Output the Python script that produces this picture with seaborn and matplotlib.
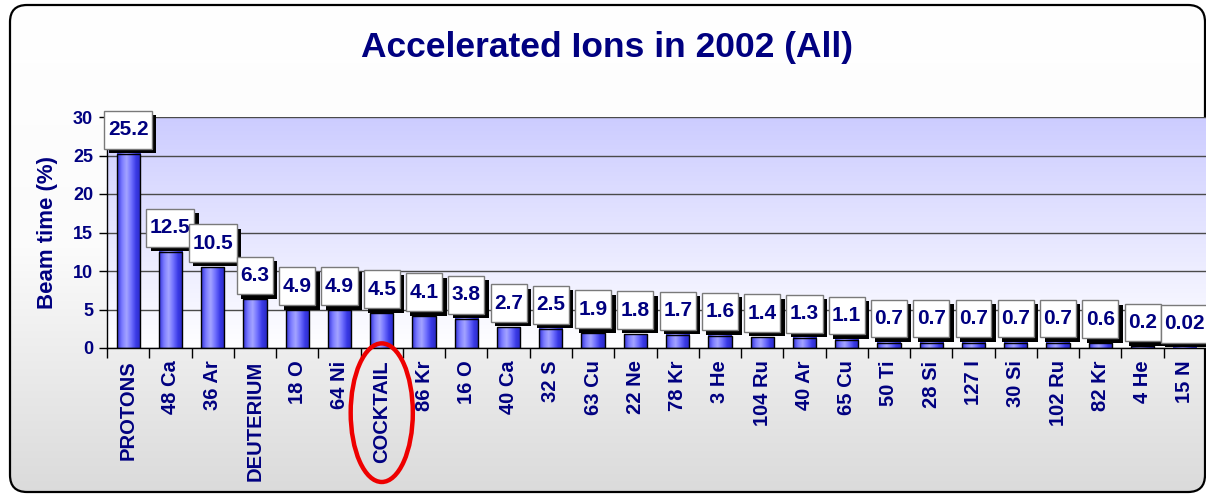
import numpy as np
import pandas as pd
import seaborn as sns
import matplotlib.pyplot as plt
from matplotlib.colors import LinearSegmentedColormap
from matplotlib.patches import FancyBboxPatch, Ellipse
from matplotlib.path import Path
from matplotlib import patheffects
from matplotlib import transforms

sns.set_style("white")
plt.rcParams["font.family"] = ["Liberation Sans", "DejaVu Sans"]

# data

ions = ["PROTONS", "48 Ca", "36 Ar", "DEUTERIUM", "18 O", "64 Ni", "COCKTAIL",
        "86 Kr", "16 O", "40 Ca", "32 S", "63 Cu", "22 Ne", "78 Kr", "3 He",
        "104 Ru", "40 Ar", "65 Cu", "50 Ti", "28 Si", "127 I", "30 Si",
        "102 Ru", "82 Kr", "4 He", "15 N"]
beam_time = [25.2, 12.5, 10.5, 6.3, 4.9, 4.9, 4.5, 4.1, 3.8, 2.7, 2.5, 1.9, 1.8,
             1.7, 1.6, 1.4, 1.3, 1.1, 0.7, 0.7, 0.7, 0.7, 0.7, 0.6, 0.2, 0.02]
yticks = [0, 5, 10, 15, 20, 25, 30]
highlight = "COCKTAIL"

df = pd.DataFrame({"ion": ions, "beam": beam_time})

navy = "#000080"

fig = plt.figure(figsize=(12.06, 4.97), dpi=100)

# background frame with grey gradient
bg = fig.add_axes([0, 0, 1, 1], zorder=-10)
bg.set_axis_off()
frame = FancyBboxPatch((0.10, 0.05), 11.95, 4.87,
                       boxstyle="round,pad=0,rounding_size=0.17",
                       transform=fig.dpi_scale_trans, fc="none", ec="black", lw=1.6)
grad_v = np.linspace(0, 1, 256).reshape(-1, 1)
grey_cmap = LinearSegmentedColormap.from_list("greys", ["#ffffff", "#fbfbfb", "#dadada"])
im = bg.imshow(grad_v, extent=[0, 1, 0, 1], origin="upper", cmap=grey_cmap,
               aspect="auto", transform=bg.transAxes)
bg.add_patch(frame)
im.set_clip_path(frame)
bg.set_xlim(0, 1)
bg.set_ylim(0, 1)

# plot area
ax = fig.add_axes([107 / 1206, 149 / 497, 1099 / 1206, 231 / 497])
ax.patch.set_facecolor("none")

sns.barplot(data=df, x="ion", y="beam", color="#6666ff", edgecolor="black",
            linewidth=1, width=0.55, ax=ax, zorder=3)

n = len(ions)
ax.imshow(grad_v, extent=[-0.5, n - 0.5, 0, 30], origin="upper",
          cmap=LinearSegmentedColormap.from_list("lav", ["#ccccff", "#ffffff"]),
          aspect="auto", zorder=0)

bar_cmap = LinearSegmentedColormap.from_list(
    "bar", ["#3232d8", "#7a7aff", "#a4a4ff", "#7070ff", "#3a3ae6", "#2a2ac4"])
grad_h = np.linspace(0, 1, 64).reshape(1, -1)
for p in ax.patches:
    x0, y0, w, h = p.get_x(), p.get_y(), p.get_width(), p.get_height()
    ax.imshow(grad_h, extent=[x0, x0 + w, y0, y0 + h], cmap=bar_cmap,
              aspect="auto", zorder=2.5)
    p.set_facecolor("none")

ax.set_axisbelow(True)
ax.yaxis.grid(True, color="#4a4a4a", lw=1)
ax.set_xlim(-0.5, n - 0.5)
ax.set_ylim(0, 30)
ax.set_yticks(yticks)
ax.set_yticklabels([str(t) for t in yticks], fontsize=13, fontweight="bold",
                   color=navy)
ax.tick_params(axis="y", length=6, width=1, color="black", direction="out",
               pad=4, left=True)

ax.set_xticks(range(n))
ax.set_xticklabels(ions, rotation=90, fontsize=14.5, fontweight="bold", color=navy,
                   va="top", ha="center")
ax.set_xticks(np.arange(-0.5, n, 1), minor=True)
ax.tick_params(axis="x", which="major", length=0, pad=9)
ax.tick_params(axis="x", which="minor", length=7, width=1, color="black",
               direction="out", bottom=True)
ax.set_xlabel("")
ax.set_ylabel("Beam time (%)", fontsize=16, fontweight="bold", color=navy,
              labelpad=11)

for side in ["top", "right"]:
    ax.spines[side].set_visible(False)
for side in ["left", "bottom"]:
    ax.spines[side].set_color("black")
    ax.spines[side].set_linewidth(1)


def label_box(x0, y0, width, height, mutation_size):
    px = 0.17 * mutation_size
    py = 0.45 * mutation_size
    x0, y0 = x0 - px, y0 - py
    x1, y1 = x0 + width + 2 * px, y0 + height + 2 * py
    return Path([(x0, y0), (x1, y0), (x1, y1), (x0, y1), (x0, y0)],
                closed=True)


for i, v in enumerate(beam_time):
    t = ax.annotate(str(v), xy=(i, v), xytext=(0, 10.5), textcoords="offset points",
                    ha="center", va="bottom", fontsize=15, fontweight="bold",
                    color=navy, zorder=5, annotation_clip=False,
                    bbox=dict(boxstyle=label_box, fc="white", ec="#7a7a7a", lw=1))
    t.get_bbox_patch().set_path_effects([
        patheffects.SimplePatchShadow(offset=(3.2, -3.2), shadow_rgbFace="black", alpha=1),
        patheffects.Normal()])

# highlight ring around the cocktail label
k = ions.index(highlight)
trans = transforms.blended_transform_factory(ax.transData, ax.transAxes)
ax.add_patch(Ellipse((k, -0.28), 1.47, 0.6, transform=trans, fill=False,
                     ec="#ee0000", lw=3.2, clip_on=False, zorder=6))

fig.text(0.503, 1 - 48 / 497, "Accelerated Ions in 2002 (All)", ha="center",
         va="center", fontsize=25.5, fontweight="bold", color=navy)

fig.savefig("out.png", dpi=100)
plt.close()
